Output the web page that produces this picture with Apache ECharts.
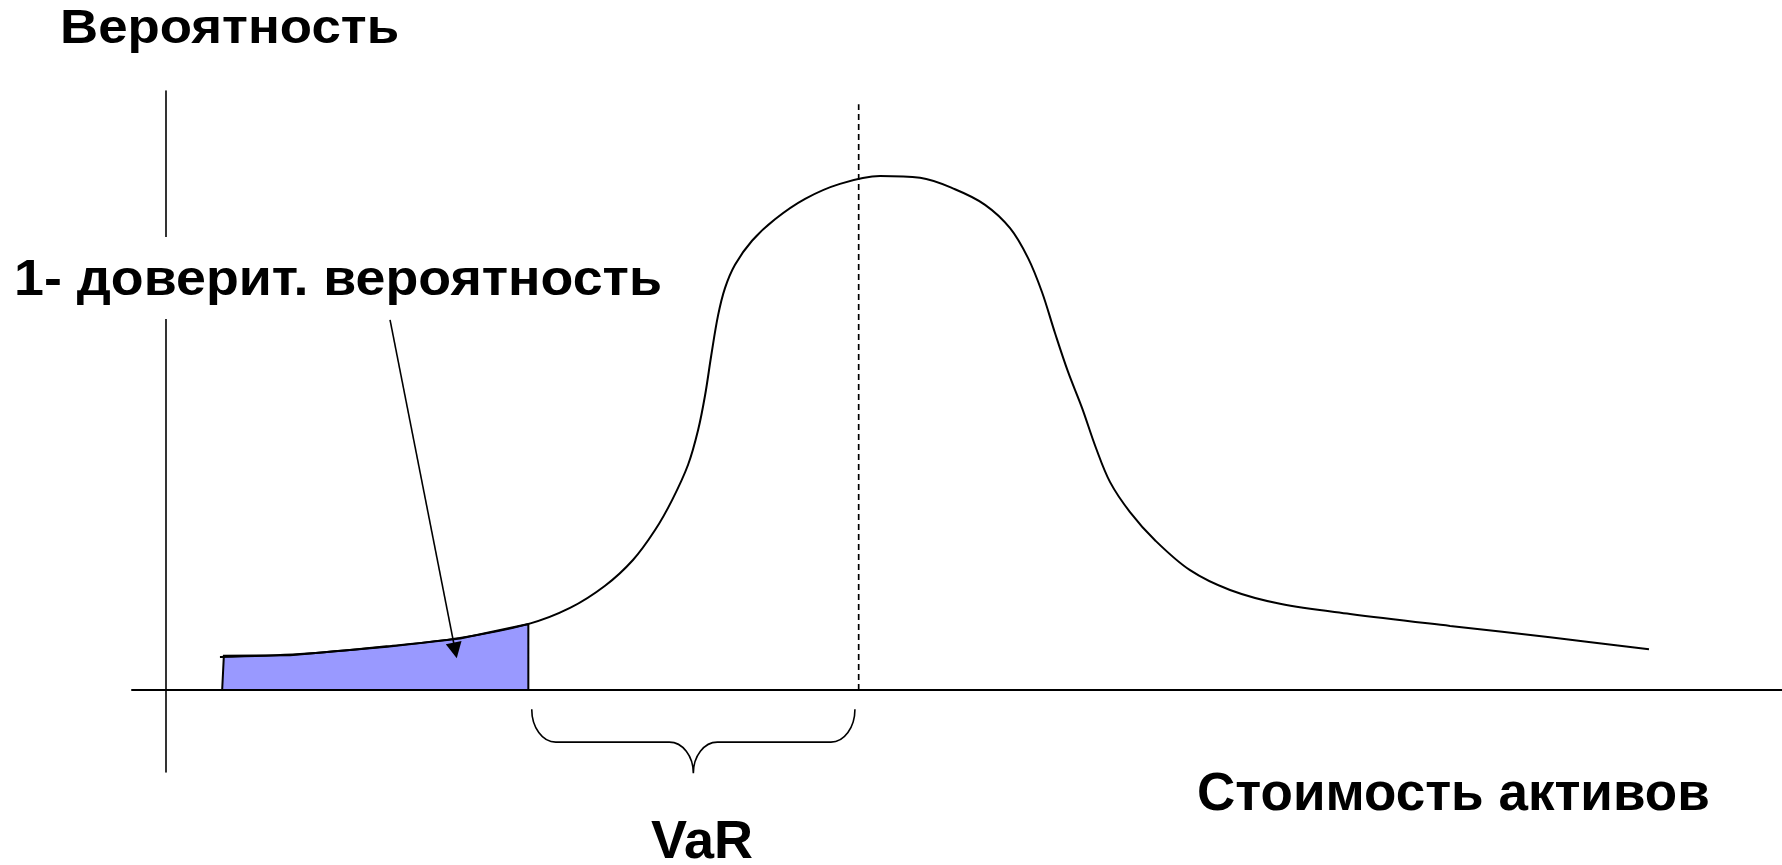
<!DOCTYPE html>
<html>
<head>
<meta charset="utf-8">
<script src="https://cdn.jsdelivr.net/npm/echarts@6/dist/echarts.min.js"></script>
<style>
html,body{margin:0;padding:0;background:#fff;}
#chart{width:1782px;height:865px;}
</style>
</head>
<body>
<div id="chart"></div>
<script>
// Asset value (x) and probability density (y)
const assetValue  = [3.17, 7.88, 12.99, 17.28, 21.28, 23.75, 25.81, 27.45, 28.75, 29.75, 30.69, 31.28, 31.69, 32.05, 32.45, 32.86, 33.45, 34.45, 35.80, 37.57, 39.62, 41.98, 44.33, 46.38, 48.15, 49.62, 50.68, 51.50, 52.26, 53.03, 53.85, 54.67, 55.50, 56.67, 58.14, 60.20, 62.55, 65.49, 69.61, 75.49, 81.36, 87.18];
const probability = [0.055, 0.060, 0.073, 0.087, 0.110, 0.137, 0.174, 0.217, 0.267, 0.317, 0.376, 0.434, 0.492, 0.558, 0.625, 0.671, 0.710, 0.750, 0.786, 0.820, 0.845, 0.858, 0.855, 0.836, 0.810, 0.771, 0.721, 0.664, 0.596, 0.531, 0.471, 0.404, 0.347, 0.297, 0.250, 0.200, 0.167, 0.144, 0.127, 0.107, 0.088, 0.068];

// Shaded tail (1 - confidence probability)
const tailX = [3.3, 3.4, 7.3, 13.0, 17.3, 21.3, 21.3];
const tailY = [0, 0.057, 0.058, 0.072, 0.086, 0.110, 0];

// Mean (dashed line), VaR span (brace), arrow
const meanValue = [40.72];
const meanTop = [0.978];
const varSpan = [21.5, 40.5];
const braceLevels = [-0.032, -0.087, -0.139];
const arrowFrom = [13.17, 0.618];
const arrowTo = [17.0, 0.066];

// Texts
const yTitle = 'Вероятность';
const xTitle = 'Стоимость активов';
const tailLabel = '1- доверит. вероятность';
const varLabel = 'VaR';

const FONT = '"Liberation Sans", Arial, sans-serif';

const chart = echarts.init(document.getElementById('chart'), null, {renderer: 'canvas'});

const curveData = assetValue.map((x, i) => [x, probability[i]]);
const tailData = tailX.map((x, i) => [x, tailY[i]]);

const K = 0.552;

const option = {
  backgroundColor: '#ffffff',
  animation: false,
  grid: {left: 132, right: 0, top: 91, bottom: 93, containLabel: false},
  xAxis: {
    type: 'value', min: -2, max: 95,
    axisLine: {show: true, onZero: true, lineStyle: {color: '#000', width: 2}},
    axisTick: {show: false}, axisLabel: {show: false}, splitLine: {show: false}
  },
  yAxis: {
    type: 'value', min: -0.1369, max: 1,
    axisLine: {show: true, onZero: true, lineStyle: {color: '#000', width: 1.6}},
    axisTick: {show: false}, axisLabel: {show: false}, splitLine: {show: false}
  },
  series: [
    {
      type: 'custom',
      name: 'tail',
      z: 3,
      renderItem: function (params, api) {
        if (params.dataIndex !== 0) return null;
        const pts = tailData.map(p => api.coord(p));
        return {
          type: 'polygon',
          shape: {points: pts},
          style: {fill: '#9999ff', stroke: '#000', lineWidth: 2}
        };
      },
      data: tailData
    },
    {
      type: 'line',
      name: 'density',
      z: 4,
      data: curveData,
      smooth: 0.35,
      showSymbol: false,
      lineStyle: {color: '#000', width: 2}
    },
    {
      type: 'line',
      name: 'mean',
      z: 4,
      data: [[meanValue[0], 0], [meanValue[0], meanTop[0]]],
      showSymbol: false,
      lineStyle: {color: '#000', width: 1.7, type: [6, 4]}
    },
    {
      type: 'custom',
      name: 'brace',
      z: 4,
      renderItem: function (params, api) {
        if (params.dataIndex !== 0) return null;
        const a = api.coord([varSpan[0], braceLevels[0]]);
        const b = api.coord([varSpan[1], braceLevels[1]]);
        const t = api.coord([(varSpan[0] + varSpan[1]) / 2, braceLevels[2]]);
        const x0 = a[0], y0 = a[1], x1 = b[0], ym = b[1], xc = t[0], yt = t[1];
        const rx = 24, ry = ym - y0, rt = yt - ym;
        const p = 'M' + x0 + ',' + y0 +
          ' C' + x0 + ',' + (y0 + ry * K) + ' ' + (x0 + rx * (1 - K)) + ',' + ym + ' ' + (x0 + rx) + ',' + ym +
          ' L' + (xc - rx) + ',' + ym +
          ' C' + (xc - rx + rx * K) + ',' + ym + ' ' + xc + ',' + (yt - rt * K) + ' ' + xc + ',' + yt +
          ' C' + xc + ',' + (yt - rt * K) + ' ' + (xc + rx - rx * K) + ',' + ym + ' ' + (xc + rx) + ',' + ym +
          ' L' + (x1 - rx) + ',' + ym +
          ' C' + (x1 - rx * (1 - K)) + ',' + ym + ' ' + x1 + ',' + (y0 + ry * K) + ' ' + x1 + ',' + y0;
        return {
          type: 'path',
          shape: {pathData: p},
          style: {fill: null, stroke: '#000', lineWidth: 1.6}
        };
      },
      data: [[varSpan[0], braceLevels[0]]]
    },
    {
      type: 'lines',
      name: 'arrow',
      coordinateSystem: 'cartesian2d',
      z: 5,
      symbol: ['none', 'triangle'],
      symbolSize: [14, 16],
      lineStyle: {color: '#000', width: 1.6, opacity: 1},
      data: [{coords: [arrowFrom, arrowTo]}]
    }
  ],
  graphic: [
    {
      type: 'text', z: 100, x: 60, y: 30, scaleX: 1.1,
      style: {text: yTitle, font: 'bold 48px ' + FONT, fill: '#000', align: 'left', verticalAlign: 'middle', textAlign: 'left', textVerticalAlign: 'middle'}
    },
    {
      type: 'rect', z: 99,
      shape: {x: 0, y: 237, width: 672, height: 82},
      style: {fill: '#ffffff'}
    },
    {
      type: 'text', z: 100, x: 14, y: 281, scaleX: 1.075,
      style: {text: tailLabel, font: 'bold 50px ' + FONT, fill: '#000', align: 'left', verticalAlign: 'middle', textAlign: 'left', textVerticalAlign: 'middle'}
    },
    {
      type: 'text', z: 100, x: 1197, y: 795,
      style: {text: xTitle, font: 'bold 53px ' + FONT, fill: '#000', align: 'left', verticalAlign: 'middle', textAlign: 'left', textVerticalAlign: 'middle'}
    },
    {
      type: 'text', z: 100, x: 702, y: 843,
      style: {text: varLabel, font: 'bold 54px ' + FONT, fill: '#000', align: 'center', verticalAlign: 'middle', textAlign: 'center', textVerticalAlign: 'middle'}
    }
  ]
};
chart.setOption(option);
</script>
</body>
</html>
